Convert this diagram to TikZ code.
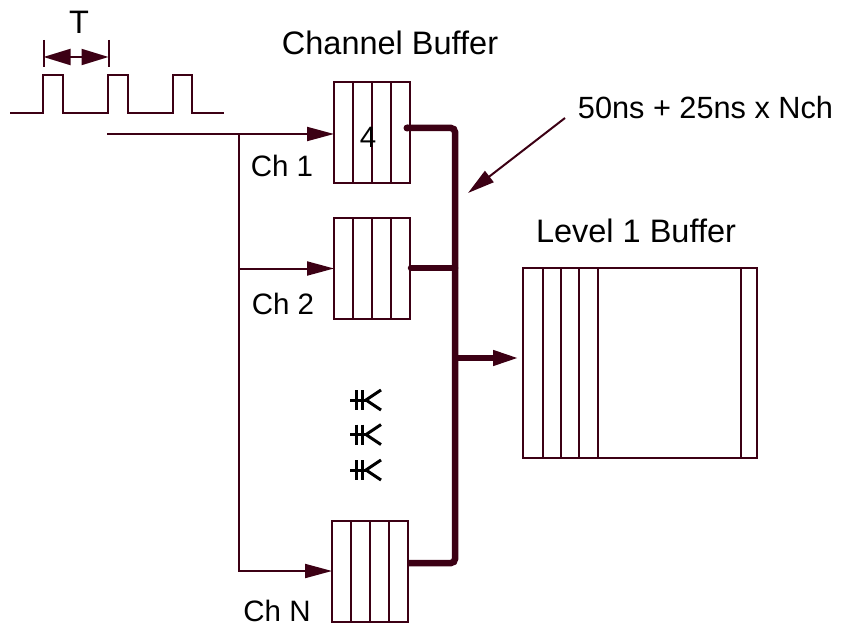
\documentclass[tikz,border=0pt]{standalone}
\usepackage{fontspec}
\setmainfont{Liberation Sans}
\usetikzlibrary{arrows.meta,calc}
\definecolor{ln}{RGB}{60,0,20}
\begin{document}
\begin{tikzpicture}[x=1pt,y=-1pt,
  thin/.style={draw=ln, line width=2pt},
  bus/.style={draw=ln, line width=6.5pt},
  tip/.style={-{Triangle[length=27pt,width=14pt]}},
  chbuf/.style={draw=ln, line width=2pt, rectangle, minimum width=76pt, minimum height=101pt, inner sep=0pt, outer sep=0pt},
  bigbuf/.style={draw=ln, line width=2pt, rectangle, minimum width=234pt, minimum height=190pt, inner sep=0pt, outer sep=0pt},
  lbl/.style={font=\fontsize{29.5}{34}\selectfont, text=black, inner sep=0pt},
  biglbl/.style={font=\fontsize{32.5}{38}\selectfont, text=black, inner sep=0pt},
  annlbl/.style={font=\fontsize{30.7}{36}\selectfont, text=black, inner sep=0pt},
  star/.style={draw=black, line width=3pt}
]
\useasboundingbox (0,0) rectangle (850,628);

% pulse train
\draw[thin] (10,112.7) -- (42.7,112.7) -- (42.7,75) -- (63.3,75) -- (63.3,112.7)
  -- (107.7,112.7) -- (107.7,75) -- (127.7,75) -- (127.7,112.7)
  -- (173.3,112.7) -- (173.3,75) -- (192.3,75) -- (192.3,112.7) -- (224,112.7);

% period T
\coordinate (ta) at (43.5,57);
\coordinate (tb) at (108.5,57);
\draw[thin] (43.5,40) -- (43.5,67);
\draw[thin] (108.5,40) -- (108.5,67);
\draw[thin,{Triangle[length=27pt,width=16pt]}-{Triangle[length=27pt,width=16pt]}] (ta) -- (tb);
\node[biglbl] (tlabel) at (79,22) {T};

% channel buffers
\node[chbuf] (b1) at (372,133) {};
\node[chbuf] (b2) at (372,268.5) {};
\node[chbuf] (bN) at (370,571) {};
\foreach \b in {b1,b2,bN}{
  \foreach \i in {1,2,3}{
    \draw[thin] ($(\b.north west)!\i/4!(\b.north east)$) -- ($(\b.south west)!\i/4!(\b.south east)$);
  }
}
\node[lbl] (four) at (368,137) {4};

% level 1 buffer
\node[bigbuf] (L1) at (640,363) {};
\foreach \d in {20,38,56,75,218}{
  \draw[thin] ([xshift=\d pt]L1.north west) -- ([xshift=\d pt]L1.south west);
}

% inputs
\coordinate (in) at (107,134);
\coordinate (sp) at (239,134);
\draw[thin,tip] (in) -- (in -| b1.west);
\draw[thin,tip] (sp) |- (bN.west);
\draw[thin,tip] (sp |- b2.west) -- (b2.west);

% bus
\coordinate (o1) at (407,128);
\coordinate (bt) at (455,128);
\coordinate (bb) at (455,563);
\coordinate (oN) at (407,563);
\draw[bus, rounded corners=4pt] (o1) -- (bt) -- (bb) -- (oN);
\fill[ln] (o1) circle (3.5pt);
\coordinate (o2) at (411,268);
\draw[bus, line cap=round] (o2) -- (o2 -| bt);
\coordinate (bm) at (455,358);
\draw[bus, tip, shorten >=3pt] (bm) -- (bm -| L1.west);

% labels
\node[biglbl] (cb) at (390,43) {Channel Buffer};
\node[biglbl] (lb) at (636,231) {Level 1 Buffer};
\node[lbl] (c1) at (282,166) {Ch 1};
\node[lbl] (c2) at (283,304) {Ch 2};
\node[lbl] (cN) at (277,611) {Ch N};
\node[annlbl] (ann) at (705.5,108) {50ns + 25ns x Nch};
\coordinate (as) at (565,118);
\coordinate (at) at (468,193);
\draw[thin,tip] (as) -- (at);

% ellipsis marks
\foreach \c in {400,434.6,470}{
  \draw[star] (350,\c) -- (369,\c);
  \draw[star] (356.5,\c-10) -- (356.5,\c+10);
  \draw[star] (362,\c-10) -- (362,\c+10);
  \draw[star] (381,\c-10) -- (366,\c) -- (381,\c+10);
}
\end{tikzpicture}
\end{document}
